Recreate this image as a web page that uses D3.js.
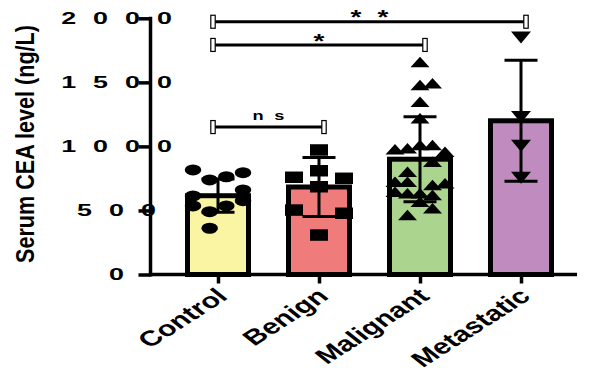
<!DOCTYPE html>
<html>
<head>
<meta charset="utf-8">
<script src="https://cdn.jsdelivr.net/npm/d3@7"></script>
<style>
  html, body { margin: 0; padding: 0; background: #fff; }
  svg { display: block; }
</style>
</head>
<body>
<svg id="chart" width="593" height="371"></svg>
<script>
// ---- data ----
const groups = ["Control", "Benign", "Malignant", "Metastatic"];
const groupMeans = [615, 683, 900, 1200];
const groupSD = [130, 230, 332, 472];
const groupColors = ["#f9f5a3", "#f07b7b", "#abd48f", "#c08bbf"];

// individual measurements, with their horizontal spread (in symbol-spacing units)
const controlValues = [816, 738, 763, 795, 613, 535, 490, 535, 660, 576, 361];
const controlJitter = [-3, -1, 1, 3, -3, -3, -1, 1, 3, 3, -1];
const benignValues = [972, 810, 759, 751, 685, 503, 478, 308];
const benignJitter = [0, 0, -3, 3, 0, -3, 3, 0];
const malignantValues = [1659, 1479, 1493, 1349, 1219, 977, 985, 1011, 1011, 959, 881, 802,
                         724, 724, 699, 712, 646, 634, 634, 621, 568, 517, 464];
const malignantJitter = [0, 0, 1.5, 0, 0, -3, -1.5, 0, 1.5, 3, 1.5, -1.5,
                         -3, -1.5, 1.5, 3, -3, -1.5, 0, 1.5, 0, 1.5, -1.5];
const metastaticValues = [1850, 1230, 1005, 755];
const metastaticJitter = [0, 0, 0, 0];

const yTicks = [0, 500, 1000, 1500, 2000];
const yTickLabels = ["0", "500", "1000", "1500", "2000"];

// significance comparisons
const compFrom = ["Control", "Control", "Control"];
const compTo = ["Benign", "Malignant", "Metastatic"];
const compLabel = ["n s", "*", "* *"];
const compLevel = [1151, 1792, 1973];

// ---- layout ----
const svg = d3.select("#chart");
svg.append("rect").attr("width", 593).attr("height", 371).attr("fill", "#fff");

const axisX = 150.5;
const axisRight = 577;
const y = d3.scaleLinear().domain([0, 2000]).range([274.5, 18.3]);
const x = d3.scalePoint().domain(groups).range([167.5, 571.5]).padding(0.5);
const jitter = d3.scaleLinear().domain([-3, 3]).range([-25, 25]);
const barW = 61;
const capW = 33;

// custom symbols drawn in a unit box, stretched afterwards
const unitEllipse = { draw(ctx) { ctx.moveTo(0.5, 0); ctx.arc(0, 0, 0.5, 0, 2 * Math.PI); } };
const unitSquare = { draw(ctx) { ctx.rect(-0.5, -0.5, 1, 1); } };
const unitUp = { draw(ctx) { ctx.moveTo(0, -0.5); ctx.lineTo(0.5, 0.5); ctx.lineTo(-0.5, 0.5); ctx.closePath(); } };
const unitDown = { draw(ctx) { ctx.moveTo(-0.5, -0.5); ctx.lineTo(0.5, -0.5); ctx.lineTo(0, 0.5); ctx.closePath(); } };

const series = [
  { values: controlValues, jit: controlJitter, type: unitEllipse, w: 16.5, h: 11 },
  { values: benignValues, jit: benignJitter, type: unitSquare, w: 18, h: 11.5 },
  { values: malignantValues, jit: malignantJitter, type: unitUp, w: 19, h: 10.5 },
  { values: metastaticValues, jit: metastaticJitter, type: unitDown, w: 20, h: 12 }
];

// ---- bars ----
svg.append("g").selectAll("rect")
  .data(groups)
  .join("rect")
  .attr("x", d => x(d) - barW / 2)
  .attr("y", (d, i) => y(groupMeans[i]))
  .attr("width", barW)
  .attr("height", (d, i) => y(0) - y(groupMeans[i]))
  .attr("fill", (d, i) => groupColors[i])
  .attr("stroke", "#000")
  .attr("stroke-width", 5);

// ---- error bars (mean ± SD) ----
const eb = svg.append("g").attr("stroke", "#000").attr("stroke-width", 3);
groups.forEach((g, i) => {
  const cx = x(g), top = y(groupMeans[i] + groupSD[i]), bot = y(groupMeans[i] - groupSD[i]);
  eb.append("line").attr("x1", cx).attr("x2", cx).attr("y1", top).attr("y2", bot);
  eb.append("line").attr("x1", cx - capW / 2).attr("x2", cx + capW / 2).attr("y1", top).attr("y2", top);
  eb.append("line").attr("x1", cx - capW / 2).attr("x2", cx + capW / 2).attr("y1", bot).attr("y2", bot);
});

// ---- individual points ----
series.forEach((s, i) => {
  const path = d3.symbol().type(s.type).size(1)();
  svg.append("g").selectAll("path")
    .data(s.values)
    .join("path")
    .attr("d", path)
    .attr("fill", "#000")
    .attr("transform", (v, k) =>
      `translate(${x(groups[i]) + jitter(s.jit[k])},${y(v)}) scale(${s.w},${s.h})`);
});

// ---- axes ----
const yAxis = d3.axisLeft(y).tickValues(yTicks).tickSize(12).tickFormat("");
const gy = svg.append("g").attr("transform", `translate(${axisX},0)`).call(yAxis);
gy.select(".domain").remove();
gy.selectAll(".tick line").attr("stroke", "#000").attr("stroke-width", 3.5);
svg.append("line").attr("x1", axisX).attr("x2", axisX)
  .attr("y1", y(2000) - 1.5).attr("y2", y(0) + 2)
  .attr("stroke", "#000").attr("stroke-width", 3.5);

const xAxis = d3.axisBottom(x).tickSize(9).tickFormat("");
const gx = svg.append("g").attr("transform", `translate(0,${y(0)})`).call(xAxis);
gx.select(".domain").remove();
gx.selectAll(".tick line").attr("stroke", "#000").attr("stroke-width", 3.5);
svg.append("line").attr("x1", axisX - 1.75).attr("x2", axisRight)
  .attr("y1", y(0)).attr("y2", y(0))
  .attr("stroke", "#000").attr("stroke-width", 3.5);

// y tick labels (wide, spaced digits)
svg.append("g").selectAll("text")
  .data(yTicks)
  .join("text")
  .attr("transform", v => `translate(125,${y(v)}) scale(1.65,1)`)
  .attr("text-anchor", "middle")
  .attr("dy", "0.36em")
  .attr("letter-spacing", 10.3)
  .attr("font-family", "Liberation Sans, Arial, sans-serif")
  .attr("font-weight", "bold")
  .attr("font-size", 16.3)
  .attr("fill", "#000")
  .text((v, i) => yTickLabels[i]);

// x category labels
svg.append("g").selectAll("text")
  .data(groups)
  .join("text")
  .attr("transform", d => `translate(${x(d) + 11},298) scale(1.4,1) rotate(-42)`)
  .attr("text-anchor", "end")
  .attr("font-family", "Liberation Sans, Arial, sans-serif")
  .attr("font-weight", "bold")
  .attr("font-size", 21.5)
  .attr("fill", "#000")
  .text(d => d);

// y axis title, fitted to the axis height
const title = svg.append("text")
  .attr("text-anchor", "middle")
  .attr("font-family", "Liberation Sans, Arial, sans-serif")
  .attr("font-weight", "bold")
  .attr("font-size", 25)
  .attr("fill", "#000")
  .text("Serum CEA level (ng/L)");
const titleFit = 238 / title.node().getComputedTextLength();
title.attr("transform", `translate(34,144) rotate(-90) scale(${titleFit},1)`);

// ---- significance brackets ----
const br = svg.append("g");
compFrom.forEach((f, i) => {
  const x1 = x(f) - 5, x2 = x(compTo[i]) + 5, ly = y(compLevel[i]);
  br.append("line").attr("x1", x1).attr("x2", x2).attr("y1", ly).attr("y2", ly)
    .attr("stroke", "#000").attr("stroke-width", 3);
  [x1, x2].forEach(ex => br.append("rect")
    .attr("x", ex - 2.2).attr("y", ly - 6.5).attr("width", 4.4).attr("height", 13)
    .attr("fill", "#fff").attr("stroke", "#000").attr("stroke-width", 1.2));
  const isStar = compLabel[i].includes("*");
  const ls = isStar ? 3 : 2;
  br.append("text")
    .attr("transform", `translate(${(x1 + x2) / 2},${isStar ? ly + 2.6 : ly - 7}) scale(1.4,1)`)
    .attr("text-anchor", "middle")
    .attr("dx", ls / 2)
    .attr("letter-spacing", ls)
    .attr("font-family", "Liberation Sans, Arial, sans-serif")
    .attr("font-weight", "bold")
    .attr("font-size", isStar ? 20 : 13)
    .attr("fill", "#000")
    .text(compLabel[i]);
});
</script>
</body>
</html>
